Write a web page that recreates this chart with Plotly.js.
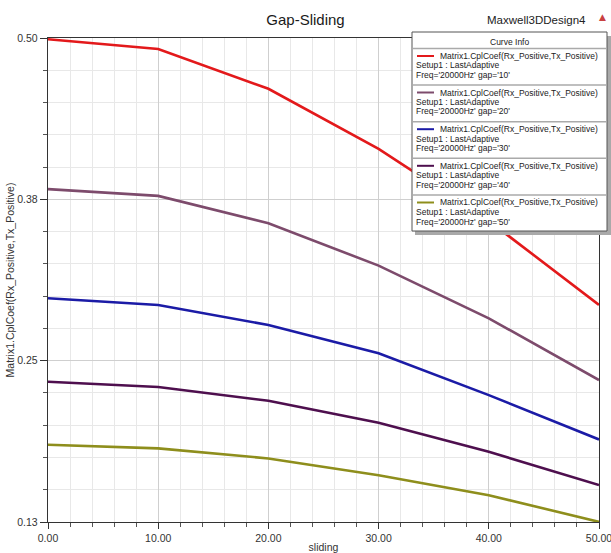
<!DOCTYPE html>
<html>
<head>
<meta charset="utf-8">
<script src="https://cdn.plot.ly/plotly-3.0.1.min.js"></script>
<style>html,body{margin:0;padding:0;background:#fff;}#chart{width:611px;height:553px;}</style>
</head>
<body>
<div id="chart"></div>
<script>
// ---- data ----
const sliding = [0, 10, 20, 30, 40, 50];
const gap10 = [0.499, 0.4916, 0.4612, 0.4153, 0.3602, 0.2960];
const gap20 = [0.3845, 0.3793, 0.3584, 0.3260, 0.2857, 0.2385];
const gap30 = [0.3010, 0.2959, 0.2806, 0.2590, 0.2270, 0.1931];
const gap40 = [0.2372, 0.2332, 0.2227, 0.2059, 0.1837, 0.1582];
const gap50 = [0.1890, 0.1863, 0.1786, 0.1658, 0.1505, 0.1301];
const seriesNames = ["gap='10'", "gap='20'", "gap='30'", "gap='40'", "gap='50'"];
const seriesColors = ["#e3191b", "#7d4b6c", "#1b1ba6", "#4e0f4e", "#8e8e1c"];
const xTickVals = [0, 10, 20, 30, 40, 50];
const xTickText = ["0.00", "10.00", "20.00", "30.00", "40.00", "50.00"];
const yTickVals = [0.13, 0.13 + 0.37/3, 0.13 + 2*0.37/3, 0.50];
const yTickText = ["0.13", "0.25", "0.38", "0.50"];
const legendLine1 = "Matrix1.CplCoef(Rx_Positive,Tx_Positive)";
const legendLine2 = "Setup1 : LastAdaptive";
const legendLine3Prefix = "Freq='20000Hz' ";

const allY = [gap10, gap20, gap30, gap40, gap50];

const traces = allY.map((ys, i) => ({
  x: sliding, y: ys, type: 'scatter', mode: 'lines',
  name: seriesNames[i],
  line: {color: seriesColors[i], width: 2.6},
  hoverinfo: 'skip'
}));

// pixel helpers for plot area
const L = 48, R = 599, T = 38, B = 522;
const px = x => (x - L) / (R - L);
const py = y => (B - y) / (B - T);

const shapes = [];
const annotations = [];
const font = 'Liberation Sans, Arial, sans-serif';

// legend box
shapes.push({type: 'rect', xref: 'paper', yref: 'paper', x0: px(415), x1: px(611), y0: py(235), y1: py(36),
  fillcolor: '#a9a9a9', line: {width: 0}, layer: 'above'});
shapes.push({type: 'rect', xref: 'paper', yref: 'paper', x0: px(412), x1: px(607), y0: py(231), y1: py(32),
  fillcolor: '#ffffff', line: {color: '#555', width: 1}, layer: 'above'});
annotations.push({xref: 'paper', yref: 'paper', x: px(509), y: py(41.5), text: 'Curve Info',
  showarrow: false, xanchor: 'center', yanchor: 'middle', font: {family: font, size: 8.5, color: '#222'}});
const sepY = [48.5, 85, 121.7, 158.3, 195];
for (let i = 0; i < 5; i++) {
  shapes.push({type: 'line', xref: 'paper', yref: 'paper', x0: px(413), x1: px(606), y0: py(sepY[i]), y1: py(sepY[i]),
    line: {color: '#aaaaaa', width: 1.5}, layer: 'above'});
  const top = sepY[i];
  shapes.push({type: 'line', xref: 'paper', yref: 'paper', x0: px(417), x1: px(434), y0: py(top + 7.5), y1: py(top + 7.5),
    line: {color: seriesColors[i], width: 2}, layer: 'above'});
  annotations.push({xref: 'paper', yref: 'paper', x: px(438), y: py(top + 7.5), text: legendLine1,
    showarrow: false, xanchor: 'left', yanchor: 'middle', font: {family: font, size: 8.5, color: '#222'}});
  annotations.push({xref: 'paper', yref: 'paper', x: px(414), y: py(top + 17), text: legendLine2,
    showarrow: false, xanchor: 'left', yanchor: 'middle', font: {family: font, size: 8.5, color: '#222'}});
  annotations.push({xref: 'paper', yref: 'paper', x: px(414), y: py(top + 26.5), text: legendLine3Prefix + seriesNames[i],
    showarrow: false, xanchor: 'left', yanchor: 'middle', font: {family: font, size: 8.5, color: '#222'}});
}
// design name + triangle
annotations.push({xref: 'paper', yref: 'paper', x: px(588), y: py(20), text: 'Maxwell3DDesign4',
  showarrow: false, xanchor: 'right', yanchor: 'middle', font: {family: font, size: 11.5, color: '#222'}});
annotations.push({xref: 'paper', yref: 'paper', x: px(602), y: py(17), text: '▲',
  showarrow: false, xanchor: 'center', yanchor: 'middle', font: {family: 'DejaVu Sans', size: 9, color: '#c94040'}});

const layout = {
  width: 611, height: 553,
  margin: {l: L, r: 611 - R, t: T, b: 553 - B, pad: 0},
  paper_bgcolor: '#ffffff', plot_bgcolor: '#ffffff',
  showlegend: false,
  title: {text: 'Gap-Sliding', xref: 'container', x: 0.5, xanchor: 'center', yref: 'container', y: 1 - 20/553, yanchor: 'middle',
    font: {family: font, size: 15, color: '#1a1a1a'}},
  xaxis: {
    range: [0, 50], tickmode: 'array', tickvals: xTickVals, ticktext: xTickText,
    ticks: 'outside', ticklen: 6, tickcolor: '#333', tickwidth: 1, ticklabeloverflow: 'allow',
    showline: true, linecolor: '#333', linewidth: 1.3, mirror: true,
    showgrid: true, gridcolor: '#cfcfcf', gridwidth: 1, zeroline: false,
    tickfont: {family: font, size: 10.5, color: '#333'},
    minor: {tickmode: 'linear', tick0: 0, dtick: 2, ticks: 'outside', ticklen: 4, tickcolor: '#555',
      showgrid: true, gridcolor: '#e8e8e8', gridwidth: 1},
    title: {text: 'sliding', standoff: 2, font: {family: font, size: 10.5, color: '#333'}}
  },
  yaxis: {
    range: [0.13, 0.50], tickmode: 'array', tickvals: yTickVals, ticktext: yTickText,
    ticks: 'outside', ticklen: 7, tickcolor: '#333', tickwidth: 1, ticklabeloverflow: 'allow',
    showline: true, linecolor: '#333', linewidth: 1.3, mirror: true,
    showgrid: true, gridcolor: '#cfcfcf', gridwidth: 1, zeroline: false,
    tickfont: {family: font, size: 10.5, color: '#333'},
    minor: {tickmode: 'linear', tick0: 0.13, dtick: 0.37/15, ticks: 'outside', ticklen: 4, tickcolor: '#555',
      showgrid: true, gridcolor: '#e8e8e8', gridwidth: 1},
    title: {text: 'Matrix1.CplCoef(Rx_Positive,Tx_Positive)', standoff: 0, font: {family: font, size: 10.5, color: '#333'}}
  },
  shapes: shapes,
  annotations: annotations
};

Plotly.newPlot('chart', traces, layout, {displayModeBar: false, staticPlot: true});
</script>
</body>
</html>
